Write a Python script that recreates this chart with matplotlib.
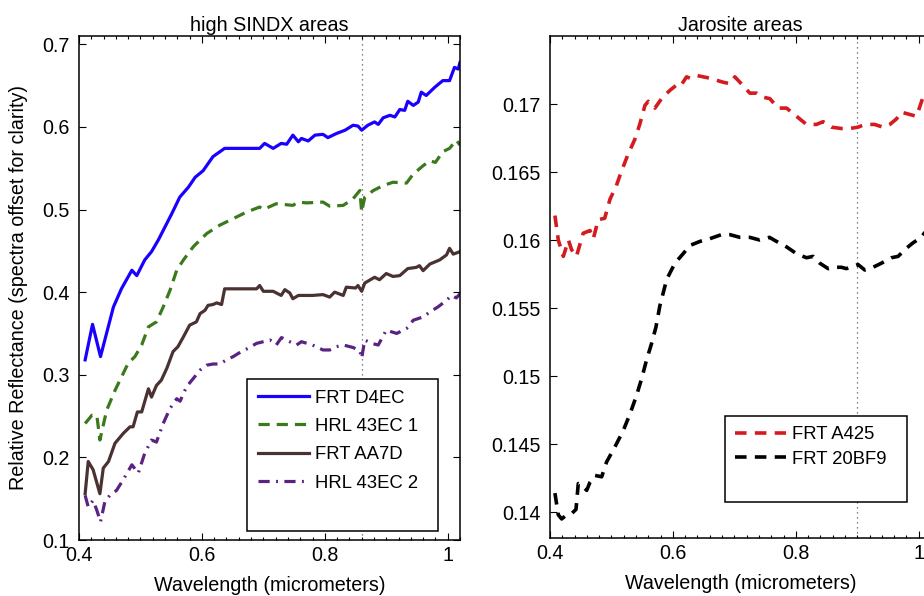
import matplotlib
matplotlib.use("Agg")
import matplotlib.pyplot as plt
from matplotlib.ticker import MultipleLocator, FixedLocator
from matplotlib.lines import Line2D

plt.rcParams['font.family'] = ['Liberation Sans', 'DejaVu Sans']

# ---------------- data: left panel (high SINDX areas) ----------------
d4ec_x = [0.41, 0.422, 0.435, 0.456, 0.469, 0.486, 0.494, 0.507, 0.518, 0.529, 0.54, 0.551, 0.564, 0.578,
          0.589, 0.602, 0.618, 0.637, 0.694, 0.702, 0.716, 0.729, 0.738, 0.748, 0.757, 0.762, 0.773, 0.784,
          0.797, 0.805, 0.819, 0.833, 0.846, 0.854, 0.860, 0.870, 0.881, 0.887, 0.895, 0.906, 0.914, 0.922,
          0.930, 0.935, 0.944, 0.952, 0.957, 0.965, 0.979, 0.992, 1.003, 1.011, 1.017, 1.020]
d4ec_y = [0.318, 0.361, 0.322, 0.382, 0.404, 0.4265, 0.42, 0.439, 0.449, 0.463, 0.479, 0.495, 0.515, 0.527,
          0.539, 0.547, 0.564, 0.574, 0.574, 0.580, 0.574, 0.580, 0.579, 0.590, 0.582, 0.586, 0.583, 0.590,
          0.591, 0.587, 0.592, 0.596, 0.602, 0.601, 0.596, 0.602, 0.606, 0.603, 0.611, 0.614, 0.612, 0.621,
          0.620, 0.631, 0.626, 0.630, 0.642, 0.638, 0.648, 0.656, 0.656, 0.672, 0.670, 0.678]

hrl1_x = [0.41, 0.421, 0.429, 0.434, 0.445, 0.4585, 0.469, 0.480, 0.491, 0.502, 0.513, 0.526, 0.537, 0.548,
          0.559, 0.570, 0.586, 0.608, 0.629, 0.651, 0.673, 0.694, 0.700, 0.721, 0.748, 0.757, 0.770, 0.797,
          0.808, 0.830, 0.846, 0.857, 0.860, 0.865, 0.879, 0.895, 0.911, 0.933, 0.944, 0.960, 0.971, 0.980,
          0.992, 1.003, 1.014, 1.020]
hrl1_y = [0.241, 0.251, 0.251, 0.221, 0.257, 0.281, 0.297, 0.314, 0.322, 0.336, 0.358, 0.364, 0.382, 0.402,
          0.4265, 0.439, 0.455, 0.471, 0.481, 0.489, 0.497, 0.503, 0.500, 0.507, 0.505, 0.509, 0.508, 0.509,
          0.504, 0.505, 0.513, 0.523, 0.497, 0.515, 0.523, 0.529, 0.533, 0.532, 0.543, 0.553, 0.559, 0.557,
          0.570, 0.574, 0.584, 0.578]

aa7d_x = [0.41, 0.415, 0.423, 0.434, 0.4395, 0.448, 0.4585, 0.472, 0.483, 0.488, 0.495, 0.502, 0.513, 0.518,
          0.526, 0.534, 0.543, 0.553, 0.561, 0.570, 0.580, 0.591, 0.597, 0.605, 0.610, 0.618, 0.624, 0.632,
          0.637, 0.689, 0.694, 0.700, 0.716, 0.729, 0.735, 0.743, 0.748, 0.757, 0.780, 0.797, 0.808, 0.816,
          0.830, 0.835, 0.850, 0.854, 0.860, 0.865, 0.881, 0.889, 0.900, 0.911, 0.922, 0.935, 0.949, 0.954,
          0.960, 0.971, 0.987, 0.998, 1.003, 1.009, 1.020]
aa7d_y = [0.156, 0.195, 0.185, 0.156, 0.187, 0.195, 0.217, 0.229, 0.237, 0.237, 0.255, 0.255, 0.283, 0.273,
          0.287, 0.2935, 0.308, 0.328, 0.334, 0.346, 0.360, 0.364, 0.374, 0.378, 0.384, 0.385, 0.387, 0.385,
          0.404, 0.404, 0.408, 0.401, 0.401, 0.396, 0.403, 0.399, 0.392, 0.396, 0.396, 0.397, 0.394, 0.400,
          0.396, 0.406, 0.405, 0.408, 0.401, 0.411, 0.418, 0.415, 0.4225, 0.419, 0.420, 0.4285, 0.430, 0.432,
          0.426, 0.434, 0.439, 0.445, 0.453, 0.446, 0.449]

hrl2_x = [0.41, 0.415, 0.423, 0.429, 0.435, 0.442, 0.450, 0.461, 0.472, 0.486, 0.4965, 0.507, 0.518, 0.526,
          0.537, 0.548, 0.559, 0.5645, 0.575, 0.586, 0.597, 0.608, 0.618, 0.629, 0.640, 0.651, 0.664, 0.675,
          0.689, 0.700, 0.711, 0.721, 0.7295, 0.743, 0.754, 0.762, 0.780, 0.797, 0.808, 0.819, 0.830, 0.846,
          0.857, 0.860, 0.865, 0.876, 0.887, 0.900, 0.917, 0.933, 0.944, 0.960, 0.971, 0.984, 0.998, 1.006,
          1.014, 1.020]
hrl2_y = [0.154, 0.140, 0.148, 0.136, 0.122, 0.146, 0.154, 0.160, 0.173, 0.191, 0.181, 0.205, 0.221, 0.2185,
          0.241, 0.259, 0.271, 0.268, 0.2855, 0.2955, 0.3056, 0.3116, 0.313, 0.313, 0.318, 0.322, 0.328, 0.332,
          0.338, 0.340, 0.342, 0.336, 0.345, 0.340, 0.336, 0.340, 0.336, 0.330, 0.330, 0.334, 0.336, 0.333,
          0.329, 0.320, 0.342, 0.338, 0.336, 0.354, 0.350, 0.356, 0.366, 0.370, 0.376, 0.382, 0.390, 0.396,
          0.393, 0.398]

# ---------------- data: right panel (Jarosite areas) ----------------
a425_x = [0.408, 0.4135, 0.4217, 0.430, 0.435, 0.443, 0.454, 0.465, 0.4705, 0.4785, 0.489, 0.4976, 0.508,
          0.5166, 0.527, 0.538, 0.546, 0.5545, 0.560, 0.5707, 0.5816, 0.595, 0.6087, 0.6136, 0.6222, 0.6276,
          0.6385, 0.660, 0.6818, 0.6925, 0.7008, 0.709, 0.7252, 0.736, 0.7464, 0.7577, 0.7713, 0.785, 0.8011,
          0.8174, 0.8336, 0.8444, 0.858, 0.8742, 0.8877, 0.9013, 0.9122, 0.928, 0.942, 0.953, 0.9637, 0.9718,
          0.980, 0.9962, 1.001, 1.007, 1.020]
a425_y = [0.1618, 0.1600, 0.1588, 0.1600, 0.1593, 0.1588, 0.1605, 0.1607, 0.1601, 0.1615, 0.1616, 0.1630,
          0.1640, 0.1651, 0.1663, 0.1674, 0.1685, 0.1699, 0.1702, 0.1697, 0.1704, 0.1710, 0.1715, 0.1714,
          0.1720, 0.1719, 0.1721, 0.1719, 0.1716, 0.1715, 0.1720, 0.1716, 0.1708, 0.1708, 0.1705, 0.1704,
          0.1697, 0.1697, 0.1691, 0.1685, 0.1685, 0.1687, 0.1683, 0.1682, 0.1682, 0.1683, 0.1685, 0.1685,
          0.1683, 0.1685, 0.1689, 0.1694, 0.1693, 0.1691, 0.1697, 0.1705, 0.1715]

bf9_x = [0.408, 0.4135, 0.419, 0.4271, 0.4353, 0.4423, 0.446, 0.4515, 0.4597, 0.4651, 0.4732, 0.4841, 0.4922,
         0.5057, 0.5192, 0.530, 0.541, 0.549, 0.5572, 0.5653, 0.5724, 0.5789, 0.587, 0.5897, 0.6033, 0.6167,
         0.6276, 0.6439, 0.660, 0.679, 0.6925, 0.709, 0.725, 0.7415, 0.7572, 0.7686, 0.7849, 0.8011, 0.8174,
         0.8282, 0.839, 0.8526, 0.8607, 0.8742, 0.8823, 0.9013, 0.9122, 0.9257, 0.9393, 0.9555, 0.9664, 0.980,
         0.9908, 1.0043, 1.020]
bf9_y = [0.1414, 0.1398, 0.1395, 0.1398, 0.1399, 0.1402, 0.1421, 0.1420, 0.1416, 0.1422, 0.1427, 0.1426,
         0.1437, 0.1448, 0.1460, 0.1472, 0.1486, 0.1498, 0.1512, 0.1524, 0.1536, 0.1552, 0.1566, 0.1571,
         0.1583, 0.1590, 0.1596, 0.1599, 0.1601, 0.1604, 0.1604, 0.1602, 0.1602, 0.1600, 0.1602, 0.1599,
         0.1595, 0.1590, 0.1587, 0.1588, 0.1583, 0.1579, 0.1580, 0.1580, 0.1579, 0.1582, 0.1578, 0.1580,
         0.1583, 0.1587, 0.1588, 0.1594, 0.1598, 0.1602, 0.1612]

left_labels = ['FRT D4EC', 'HRL 43EC 1', 'FRT AA7D', 'HRL 43EC 2']
right_labels = ['FRT A425', 'FRT 20BF9']
left_marker_x = 0.86
right_marker_x = 0.90
x_ticks = [0.4, 0.6, 0.8, 1.0]
x_ticklabels = ['0.4', '0.6', '0.8', '1']
left_yticks = [0.1, 0.2, 0.3, 0.4, 0.5, 0.6, 0.7]
left_yticklabels = ['0.1', '0.2', '0.3', '0.4', '0.5', '0.6', '0.7']
right_yticks = [0.14, 0.145, 0.15, 0.155, 0.16, 0.165, 0.17]
right_yticklabels = ['0.14', '0.145', '0.15', '0.155', '0.16', '0.165', '0.17']

# ---------------- figure ----------------
W, H = 924, 596
fig = plt.figure(figsize=(W / 100, H / 100), dpi=100)
ax1 = fig.add_axes([79 / W, (H - 540) / H, 381 / W, 504 / H])
ax2 = fig.add_axes([550 / W, (H - 538) / H, 381 / W, 502 / H])

FS = 14.2
LFS = 13.3
lw = 2.3


def style_axes(ax):
    ax.set_xlim(0.4, 1.02)
    ax.xaxis.set_major_locator(FixedLocator(x_ticks))
    ax.set_xticklabels(x_ticklabels)
    ax.xaxis.set_minor_locator(MultipleLocator(0.02))
    ax.tick_params(which='both', direction='in', top=True, right=True, labelsize=FS, width=0.8)
    ax.tick_params(which='major', length=5)
    ax.tick_params(which='minor', length=2.5)
    ax.tick_params(axis='y', which='minor', left=False, right=False)
    ax.tick_params(axis='y', pad=6.5)
    ax.tick_params(axis='x', pad=4)
    for s in ax.spines.values():
        s.set_linewidth(1.1)
    ax.set_xlabel('Wavelength (micrometers)', fontsize=FS)
    ax.xaxis.set_label_coords(0.5, -0.071)


# left panel
ax1.axvline(left_marker_x, color='0.35', lw=0.9, ls=(0, (1, 3)), zorder=1)
ax1.plot(d4ec_x, d4ec_y, color='#1a00ff', lw=lw, ls='-', label=left_labels[0])
ax1.plot(hrl1_x, hrl1_y, color='#3b7a1c', lw=lw, ls=(0, (3.5, 2.2)), label=left_labels[1])
ax1.plot(aa7d_x, aa7d_y, color='#4a3232', lw=lw, ls='-', label=left_labels[2])
ax1.plot(hrl2_x, hrl2_y, color='#5a2382', lw=lw, ls=(0, (3.5, 2.0, 0.6, 2.0)), label=left_labels[3])
style_axes(ax1)
ax1.set_ylim(0.1, 0.71)
ax1.yaxis.set_major_locator(FixedLocator(left_yticks))
ax1.set_yticklabels(left_yticklabels)
ax1.set_title('high SINDX areas', fontsize=FS, pad=3.5)
ax1.set_ylabel('Relative Reflectance (spectra offset for clarity)', fontsize=FS)
ax1.yaxis.set_label_coords(-0.134, 0.5)

h1, l1 = ax1.get_legend_handles_labels()
h1.append(Line2D([], [], color='none'))
l1.append(' ')
leg1 = ax1.legend(h1, l1, loc='lower left', bbox_to_anchor=(0.44, 0.018, 0.503, 0.3),
                  mode='expand', fontsize=LFS, handlelength=2.8, handletextpad=0.3,
                  labelspacing=0.615, borderpad=0.59, fancybox=False, framealpha=1,
                  edgecolor='black', borderaxespad=0)
leg1.get_frame().set_linewidth(1.1)

# right panel
ax2.axvline(right_marker_x, color='0.35', lw=0.9, ls=(0, (1, 3)), zorder=1)
ax2.plot(a425_x, a425_y, color='#d51a20', lw=lw + 0.3, ls=(0, (3.2, 2.3)), label=right_labels[0])
ax2.plot(bf9_x, bf9_y, color='black', lw=lw + 0.3, ls=(0, (3.2, 2.3)), label=right_labels[1])
style_axes(ax2)
ax2.set_ylim(0.1381, 0.175)
ax2.yaxis.set_major_locator(FixedLocator(right_yticks))
ax2.set_yticklabels(right_yticklabels)
ax2.set_title('Jarosite areas', fontsize=FS, pad=3.5)

h2, l2 = ax2.get_legend_handles_labels()
h2.append(Line2D([], [], color='none'))
l2.append(' ')
leg2 = ax2.legend(h2, l2, loc='lower left', bbox_to_anchor=(0.459, 0.072, 0.478, 0.2),
                  mode='expand', fontsize=LFS, handlelength=2.8, handletextpad=0.3,
                  labelspacing=0.4, borderpad=0.535, fancybox=False, framealpha=1,
                  edgecolor='black', borderaxespad=0)
leg2.get_frame().set_linewidth(1.1)

fig.savefig('out.png', dpi=100)
